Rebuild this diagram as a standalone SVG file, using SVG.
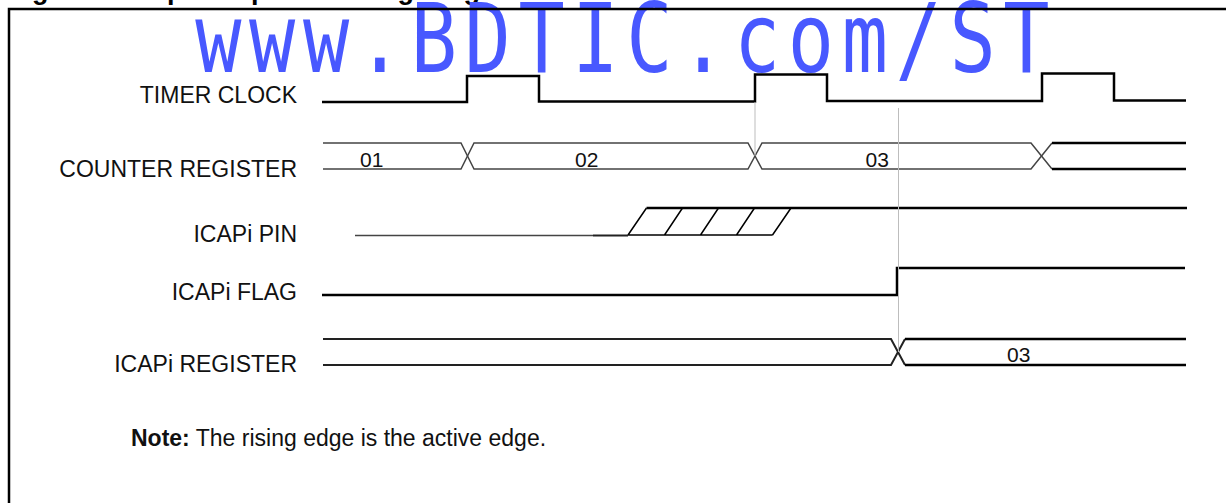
<svg xmlns="http://www.w3.org/2000/svg" width="1226" height="503" viewBox="0 0 1226 503">
<style>
.lbl{font-family:"Liberation Sans",Arial,sans-serif;font-size:23px;fill:#111}
.val{font-family:"Liberation Sans",Arial,sans-serif;font-size:21px;fill:#111}
.title{font-family:"Liberation Sans",Arial,sans-serif;font-size:27px;font-weight:bold;fill:#000}
.wm{font-family:"DejaVu Sans Mono",monospace;font-size:80px;fill:#4858ff}
.thick{stroke:#000;stroke-width:2.5;fill:none}
.mid{stroke:#222;stroke-width:2;fill:none}
.thin{stroke:#444;stroke-width:1.5;fill:none}
.hatch{stroke:#000;stroke-width:1.5;fill:none}
.guide{stroke:#bdbdbd;stroke-width:1;fill:none}
.frame{stroke:#000;stroke-width:2.5;fill:none}
</style>
<rect width="1226" height="503" fill="#fff"/>
<text class="title" x="8" y="-1">Figure 40. Input Capture Timing Diagram</text>
<g id="watermark" transform="matrix(0.96,0,0,1.21,8,72)">
<text class="wm" x="195" y="0" textLength="890" lengthAdjust="spacing">www.BDTIC.com/ST</text>
</g>
<path class="frame" d="M9,503 V9 H1226"/>
<g id="timer-clock">
<text class="lbl" x="297" y="103" text-anchor="end">TIMER CLOCK</text>
<path class="thick" d="M322,102 H467 V76 H539 V101.5 H755 V74.5 H827 V101 H1042 V73.5 H1114 V100.5 H1186"/>
</g>
<g id="counter-register">
<text class="lbl" x="297" y="177" text-anchor="end">COUNTER REGISTER</text>
<path class="thin" d="M323,143 H461 L474,169 H748 L762,143 H1031 L1052,169"/>
<path class="thin" d="M323,169 H461 L474,143 H748 L762,169 H1031 L1052,143"/>
<path class="thick" d="M1052,143 H1186 M1052,169 H1186"/>
<text class="val" x="360" y="167">01</text>
<text class="val" x="575" y="167">02</text>
<text class="val" x="865.5" y="167">03</text>
</g>
<g id="icap-pin">
<text class="lbl" x="297" y="242" text-anchor="end">ICAPi PIN</text>
<path class="thin" d="M355,235.5 H593"/>
<path class="mid" d="M593,235.5 H628"/>
<path class="hatch" d="M628,235 H772.5 M628,235 L646.5,208 M664.5,235 L682.5,208 M700.5,235 L718.5,208 M736.5,235 L754.5,208 M772.5,235 L791,208"/>
<path class="thick" d="M646.5,208 H1187"/>
</g>
<g id="icap-flag">
<text class="lbl" x="297" y="300" text-anchor="end">ICAPi FLAG</text>
<path class="thick" d="M322,295 H897 V268 H1185"/>
</g>
<g id="icap-register">
<text class="lbl" x="297" y="371.5" text-anchor="end">ICAPi REGISTER</text>
<path class="mid" d="M323,339 H891 L905,365"/>
<path class="mid" d="M323,365 H891 L905,339"/>
<path class="thick" d="M905,339 H1186 M905,365 H1186"/>
<text class="val" x="1007" y="362">03</text>
</g>
<g id="connectors">
<path class="guide" d="M755,102 V156"/>
<path class="guide" d="M898.5,108 V352"/>
</g>
<g id="note">
<text class="lbl" x="131" y="445.5"><tspan font-weight="bold">Note:</tspan> The rising edge is the active edge.</text>
</g>
</svg>
